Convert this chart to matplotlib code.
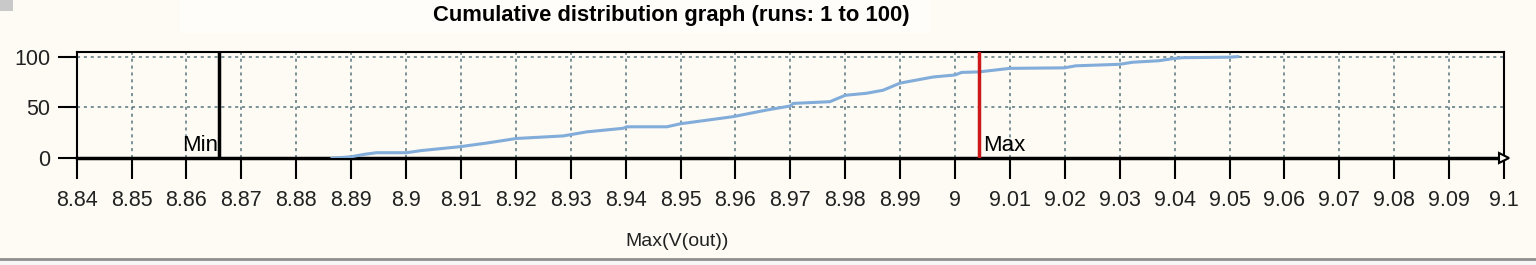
import numpy as np
import matplotlib.pyplot as plt
from matplotlib.patches import Rectangle

plt.rcParams['font.family'] = ['Liberation Sans', 'DejaVu Sans']

# cumulative distribution (percent of runs)
cdf_x = [8.8865, 8.8900, 8.8925, 8.8946, 8.9001, 8.9026, 8.9098, 8.9147, 8.9201,
         8.9286, 8.9329, 8.9395, 8.9402, 8.9475, 8.9500, 8.9596, 8.9657, 8.9700,
         8.9705, 8.9772, 8.9800, 8.9839, 8.9869, 8.9900, 8.9960, 9.0000, 9.0012,
         9.0043, 9.0100, 9.0199, 9.0220, 9.0300, 9.0323, 9.0371, 9.0396, 9.0415,
         9.0500, 9.0515]
cdf_y = [0, 1.5, 4, 5.5, 5.5, 7.5, 11.4, 15, 19.5,
         22, 26, 29.5, 31, 31, 34, 41, 47.5, 51.5,
         54, 55.7, 62, 64, 67, 74, 80, 82, 84.5,
         85, 88.5, 89, 91, 92.5, 94.5, 96, 98, 99,
         99.5, 100]

x_ticks = np.round(np.arange(8.84, 9.1001, 0.01), 2)
x_labels = ['%g' % v for v in x_ticks]
y_ticks = [0, 50, 100]
min_val = 8.866
max_val = 9.0044

title = 'Cumulative distribution graph (runs: 1 to 100)'
xlabel = 'Max(V(out))'

bg = '#fdfbf4'
W, H = 1536, 265

fig = plt.figure(figsize=(W / 100, H / 100), dpi=100, facecolor=bg)

# window decorations
fig.patches.append(Rectangle((180 / W, 1 - 33 / H), 750 / W, 33 / H, transform=fig.transFigure,
                             facecolor='#fefdf9', edgecolor='none', zorder=0))
fig.patches.append(Rectangle((0, 1 - 11 / H), 13 / W, 11 / H, transform=fig.transFigure,
                             facecolor='#c9c9c9', edgecolor='none', zorder=0))
fig.patches.append(Rectangle((0, 0), 1, 6 / H, transform=fig.transFigure,
                             facecolor='#f7f7f7', edgecolor='none', zorder=0))
fig.lines.append(plt.Line2D([0, 1], [6 / H, 6 / H], transform=fig.transFigure,
                            color='#8f8f8f', lw=2))

ax = fig.add_axes([76.7 / W, (H - 158.3) / H, (1504 - 76.7) / W, 106 / H])
ax.set_facecolor(bg)
ax.set_xlim(8.84, 9.1)
ax.set_ylim(0, 104.3)

ax.grid(True, color='#56747c', linestyle=(0, (2, 2.5)), lw=1.1)
ax.set_axisbelow(True)

ax.plot(cdf_x, cdf_y, color='#82acd9', lw=2.2, zorder=3)

ax.axvline(min_val, color='black', lw=2.5, zorder=4)
ax.axvline(max_val, color='#cc1818', lw=2.5, zorder=4)
ax.text(min_val - 0.0003, 2, 'Min', ha='right', va='bottom', fontsize=16)
ax.text(max_val + 0.0008, 2, 'Max', ha='left', va='bottom', fontsize=16)

for s in ['top', 'left', 'right']:
    ax.spines[s].set_linewidth(1.5)
ax.spines['bottom'].set_linewidth(2.5)
ax.plot([9.1], [0], marker='>', ms=7, mfc=bg, mec='black', mew=1.5,
        clip_on=False, zorder=5)

ax.set_xticks(x_ticks)
ax.set_xticklabels(x_labels)
ax.set_yticks(y_ticks)
ax.tick_params(axis='x', direction='out', length=15, width=1.5, pad=8, labelsize=15.5,
               colors='black', labelcolor='#222222')
ax.tick_params(axis='y', direction='out', length=14, width=1.5, pad=5, labelsize=15.5,
               colors='black', labelcolor='#222222')

fig.text(671 / W, 1 - 16 / H, title, ha='center', va='center', fontsize=15.8, fontweight='bold')
fig.text(677 / W, 1 - 241 / H, xlabel, ha='center', va='center', fontsize=14, color='#222222')

fig.savefig('out.png', dpi=100, facecolor=bg)
